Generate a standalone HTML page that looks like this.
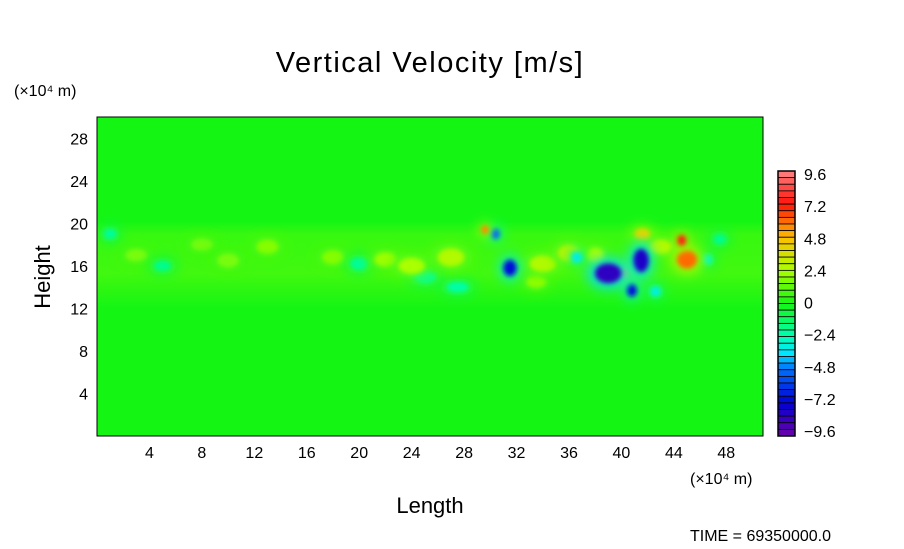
<!DOCTYPE html>
<html><head><meta charset="utf-8"><style>
body{margin:0;background:#fff;width:904px;height:544px;overflow:hidden;font-family:"Liberation Sans",sans-serif}
svg text{font-family:"Liberation Sans",sans-serif;fill:#000}
</style></head><body>
<svg id="c" width="904" height="544" viewBox="0 0 904 544">
<defs>
<filter id="blur" x="-100%" y="-100%" width="300%" height="300%"><feGaussianBlur stdDeviation="6"/></filter>
<filter id="blur2" x="-100%" y="-100%" width="300%" height="300%"><feGaussianBlur stdDeviation="2.5"/></filter>
<linearGradient id="bandg" x1="0" y1="0" x2="0" y2="1">
<stop offset="0" stop-color="rgb(120,252,10)" stop-opacity="0"/>
<stop offset="0.15" stop-color="rgb(120,252,10)" stop-opacity="0.35"/>
<stop offset="0.6" stop-color="rgb(120,252,10)" stop-opacity="0.45"/>
<stop offset="1" stop-color="rgb(120,252,10)" stop-opacity="0"/>
</linearGradient>
<clipPath id="clip"><rect x="97" y="117" width="666" height="319"/></clipPath>
</defs>
<text x="430" y="72" font-size="29" letter-spacing="1.5" text-anchor="middle">Vertical Velocity [m/s]</text>
<text x="14" y="96" font-size="16">(×10⁴ m)</text>
<text x="690" y="484" font-size="16">(×10⁴ m)</text>
<text x="430" y="513" font-size="22" text-anchor="middle">Length</text>
<text x="50" y="277" font-size="22" text-anchor="middle" transform="rotate(-90 50 277)">Height</text>
<text x="690" y="541" font-size="16">TIME = 69350000.0</text>
<g id="field" clip-path="url(#clip)"></g>
<rect x="97" y="117" width="666" height="319" fill="none" stroke="#000" stroke-width="1"/>
<g id="axes"></g>
<g id="cbar"></g>
</svg>
<script>
const xTicks=[4,8,12,16,20,24,28,32,36,40,44,48];
const yTicks=[4,8,12,16,20,24,28];
const cbarLabels=[9.6,7.2,4.8,2.4,0,-2.4,-4.8,-7.2,-9.6];
// features: x (1e4 m), y (1e4 m), w value (m/s), rx, ry (1e4 m)
const featX=[31.5,30.4,39.0,41.5,40.8,44.6,45.0,40.2,41.6,29.6,36.6,46.6,42.6,27.0,24.0,13.0,22.0,34.0,36.0,25.0,20.0,5.0,1.0,27.5,33.5,38.0,43.0,18.0,10.0,8.0,3.0,47.5];
const featY=[15.8,19.0,15.3,16.5,13.7,18.4,16.6,15.3,19.0,19.4,16.8,16.6,13.6,16.8,16.0,17.8,16.6,16.2,17.2,15.0,16.2,16.0,19.0,14.0,14.5,17.0,17.8,16.8,16.5,18.0,17.0,18.5];
const featW=[-7.0,-5.0,-8.2,-7.8,-7.0,7.0,6.0,5.0,4.0,5.5,-3.2,-2.6,-3.0,2.6,2.4,1.8,2.2,2.6,2.8,-2.2,-2.0,-1.8,-2.0,-2.2,2.0,2.4,2.6,1.8,1.6,1.5,1.6,-1.8];
const featRX=[0.6,0.4,1.2,0.7,0.45,0.4,0.9,0.35,0.7,0.35,0.5,0.4,0.5,1.2,1.2,1.0,1.0,1.2,1.0,1.0,0.8,0.8,0.6,1.0,0.9,0.8,1.0,1.0,1.0,1.0,1.0,0.6];
const featRY=[0.9,0.6,1.1,1.3,0.7,0.6,1.0,0.5,0.6,0.5,0.6,0.6,0.6,1.0,0.9,0.8,0.8,0.9,0.9,0.7,0.7,0.6,0.6,0.6,0.7,0.8,0.8,0.8,0.8,0.7,0.7,0.6];
const X0=97,X1=763,Y0=436,Y1=117,XMAX=50.8,YMAX=30;
const sx=v=>X0+v/XMAX*(X1-X0), sy=v=>Y0-v/YMAX*(Y0-Y1);
const stops=[[-9.6,[110,0,170]],[-7.2,[0,0,210]],[-4.8,[0,110,255]],[-3.6,[0,230,255]],[-2.4,[0,255,180]],[0,[20,245,20]],[2.4,[170,255,0]],[4.8,[255,190,0]],[7.2,[255,20,10]],[9.6,[255,130,130]]];
function col(v){v=Math.max(-9.6,Math.min(9.6,v));for(let i=0;i<stops.length-1;i++){const a=stops[i],b=stops[i+1];if(v<=b[0]){const t=(v-a[0])/(b[0]-a[0]);const c=a[1].map((q,k)=>Math.round(q+(b[1][k]-q)*t));return`rgb(${c})`;}}return'rgb(255,130,130)';}
const NS='http://www.w3.org/2000/svg';
function mk(tag,at,par){const e=document.createElementNS(NS,tag);for(const k in at)e.setAttribute(k,at[k]);par.appendChild(e);return e;}
const field=document.getElementById('field');
const bg=mk('rect',{x:X0,y:Y1,width:X1-X0,height:Y0-Y1,fill:col(0)},field);


const band=mk('rect',{x:X0,y:sy(20.2),width:X1-X0,height:sy(12)-sy(20.2),fill:'url(#bandg)'},field);


const order=featW.map((w,i)=>i).sort((a,b)=>Math.abs(featW[a])-Math.abs(featW[b]));
order.forEach(i=>{
 const w=featW[i];
 const halo=mk('ellipse',{cx:sx(featX[i]),cy:sy(featY[i]),rx:(sx(featRX[i])-X0)*1.4,ry:(Y0-sy(featRY[i]))*1.4,fill:col(w*0.45),'fill-opacity':0.8,filter:'url(#blur)'},field);
 
 
 const e=mk('ellipse',{cx:sx(featX[i]),cy:sy(featY[i]),rx:(sx(featRX[i])-X0)*0.85,ry:(Y0-sy(featRY[i]))*0.85,fill:col(w),filter:'url(#blur2)'},field);
 
 
});
const axes=document.getElementById('axes');
xTicks.forEach(t=>{const e=mk('text',{x:sx(t),y:458,'font-size':16,'text-anchor':'middle'},axes);e.textContent=t;
 
 });
yTicks.forEach(t=>{const e=mk('text',{x:88,y:sy(t)+6,'font-size':16,'text-anchor':'end'},axes);e.textContent=t;
 
 });
const cb=document.getElementById('cbar');
const CT=171,CB=436,N=40,h=(CB-CT)/N;
for(let k=0;k<N;k++){const v=9.6-(k+0.5)*19.2/N;
 const r=mk('rect',{x:778,y:CT+k*h,width:17,height:h,fill:col(v),stroke:'#000','stroke-width':0.8},cb);
 
 }
const fr=mk('rect',{x:778,y:CT,width:17,height:CB-CT,fill:'none',stroke:'#000','stroke-width':1.5},cb);


cbarLabels.forEach(v=>{const y=CT+(9.6-v)/19.2*(CB-CT-8)+9;const e=mk('text',{x:804,y:y,'font-size':16},cb);
 e.textContent=(v<0?'−':'')+Math.abs(v);
 
 });
</script>
</body></html>
